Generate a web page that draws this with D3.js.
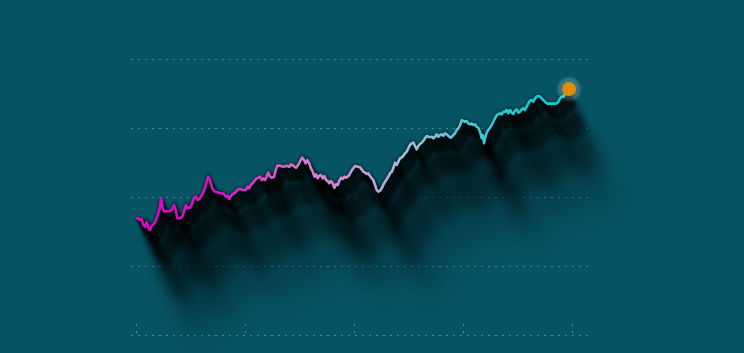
<!DOCTYPE html>
<html>
<head>
<meta charset="utf-8">
<script src="https://cdn.jsdelivr.net/npm/d3@7"></script>
<style>
  html, body { margin: 0; padding: 0; background: #065363; overflow: hidden; }
  svg { display: block; }
</style>
</head>
<body>
<div id="chart"></div>
<script>
var width = 744,
    height = 353;

// day index of each reading (0..240) and its value
var days = [0, 1.1, 2.2, 3.1, 4.0, 5.0, 5.9, 6.8, 7.7, 8.6, 9.5, 10.5, 11.4, 12.3, 13.2, 13.9, 14.7, 15.6, 16.9, 18.3,
    19.7, 20.9, 21.9, 22.7, 24.2, 25.5, 26.4, 27.5, 28.5, 29.7, 30.7, 31.9, 32.9, 34.0, 35.2, 36.7, 38.0, 38.9, 39.8, 40.7,
    41.7, 42.6, 43.5, 45.0, 46.2, 47.5, 48.6, 49.4, 50.5, 51.2, 52.1, 53.0, 54.1, 55.4, 56.3, 57.8, 59.1, 60.4, 61.5, 62.2,
    63.1, 64.2, 65.1, 66.4, 67.3, 68.3, 69.2, 70.1, 71.0, 71.9, 72.8, 73.8, 74.7, 76.0, 76.9, 77.8, 79.3, 81.1, 83.0, 84.4,
    85.3, 86.6, 88.1, 89.3, 90.7, 91.5, 92.5, 93.4, 94.3, 95.4, 96.3, 97.3, 98.2, 99.1, 100.0, 100.9, 101.8, 102.8, 103.7, 104.6,
    105.5, 106.4, 107.3, 108.3, 109.2, 110.1, 111.0, 111.9, 112.9, 113.8, 114.7, 115.6, 116.5, 117.4, 118.4, 119.3, 120.6, 122.0, 123.3, 124.2,
    125.1, 126.1, 127.0, 127.9, 128.8, 129.8, 130.6, 131.6, 132.5, 133.4, 134.3, 135.3, 136.1, 137.1, 138.0, 138.9, 139.8, 140.8, 141.6, 142.6,
    143.5, 144.4, 145.3, 146.3, 147.1, 148.1, 149.0, 149.9, 150.8, 151.8, 152.7, 153.6, 154.5, 155.4, 156.3, 157.3, 158.2, 159.1, 160.0, 160.9,
    161.8, 162.8, 163.7, 164.6, 165.5, 166.4, 167.4, 168.3, 169.2, 170.1, 171.0, 171.9, 173.2, 174.3, 175.6, 176.5, 177.4, 178.4, 179.3, 180.2,
    181.1, 182.0, 182.9, 183.9, 184.8, 185.7, 186.6, 187.5, 188.4, 189.4, 190.3, 190.9, 191.6, 192.1, 193.1, 193.9, 194.9, 195.8, 196.7, 197.6,
    198.6, 199.4, 200.4, 201.3, 202.2, 203.1, 204.1, 204.9, 205.9, 206.8, 207.7, 208.6, 209.6, 210.5, 211.4, 212.3, 213.2, 214.1, 215.1, 216.0,
    216.9, 217.8, 218.7, 219.6, 220.6, 221.5, 222.4, 223.3, 224.2, 225.1, 226.1, 227.0, 227.9, 228.8, 229.7, 230.6, 231.6, 232.5, 233.4, 234.3,
    235.2, 235.8, 237.1, 238.4];

var values = [16.91, 16.96, 16.67, 16.81, 15.94, 15.70, 16.33, 15.55, 15.22, 15.80, 16.04, 16.33, 16.91, 17.64, 18.59, 19.81, 18.36, 17.87, 17.97, 17.97,
    18.12, 18.84, 18.12, 16.91, 16.91, 17.15, 17.87, 18.84, 18.36, 18.45, 18.94, 19.81, 20.04, 19.57, 19.81, 20.54, 21.26, 22.22, 22.94, 22.46,
    21.49, 21.01, 20.77, 20.68, 20.54, 20.54, 20.39, 20.04, 20.19, 19.71, 20.04, 20.39, 20.54, 20.87, 21.16, 21.12, 21.01, 21.01, 21.49, 21.26,
    21.74, 21.99, 22.32, 22.71, 22.80, 22.94, 22.46, 22.71, 22.46, 22.94, 23.58, 22.94, 22.80, 22.94, 23.91, 24.54, 24.54, 24.39, 24.54, 24.39,
    24.74, 24.54, 24.25, 24.64, 25.36, 25.70, 25.36, 24.88, 25.36, 24.88, 24.16, 23.67, 22.94, 23.29, 22.71, 23.09, 23.19, 22.71, 23.04, 22.46,
    22.32, 21.99, 22.32, 21.99, 21.35, 21.84, 21.74, 22.32, 22.80, 22.61, 22.94, 22.80, 22.94, 23.19, 23.67, 24.06, 24.49, 24.39, 24.30, 24.01,
    23.67, 23.52, 23.33, 23.43, 23.04, 22.71, 22.46, 21.74, 21.01, 20.77, 20.91, 21.26, 21.74, 22.22, 22.57, 22.94, 23.43, 23.67, 24.16, 24.97,
    24.64, 25.12, 25.61, 25.75, 25.94, 26.33, 26.57, 27.06, 27.54, 27.78, 27.87, 27.39, 26.91, 27.39, 27.68, 27.87, 28.16, 28.51, 28.84, 28.74,
    28.70, 28.74, 28.51, 28.74, 29.09, 28.74, 28.99, 29.09, 28.88, 29.23, 29.09, 28.88, 28.59, 28.88, 29.23, 29.71, 29.96, 30.43, 31.16, 31.01,
    30.91, 31.01, 30.68, 30.54, 30.68, 30.43, 30.54, 30.19, 30.04, 29.46, 28.51, 28.99, 27.78, 28.51, 29.38, 29.71, 30.04, 30.43, 30.91, 31.41,
    31.88, 31.99, 32.13, 31.99, 32.36, 32.36, 32.61, 32.13, 32.61, 32.22, 32.03, 32.51, 32.71, 32.22, 32.36, 32.71, 32.86, 32.61, 33.09, 33.58,
    33.96, 34.06, 33.81, 34.30, 34.54, 34.64, 34.54, 34.30, 34.06, 33.81, 33.58, 33.48, 33.58, 33.48, 33.58, 33.48, 33.58, 33.81, 34.30, 34.54,
    34.54, 34.78, 35.26, 35.65];

var gridValues = [0, 10, 20, 30, 40];
var tickDays = [0, 60, 120, 180, 240];

// colour of the line from first to last day
var colorStops = [
    {offset: 0.00, color: "#e000c8"},
    {offset: 0.20, color: "#d418c4"},
    {offset: 0.36, color: "#d470cc"},
    {offset: 0.50, color: "#cc98d0"},
    {offset: 0.62, color: "#a8bcd4"},
    {offset: 0.76, color: "#50c6d0"},
    {offset: 0.88, color: "#1ccad2"},
    {offset: 1.00, color: "#10ccd4"}
];

var data = days.map(function(d, i) { return {day: d, value: values[i]}; });

var x = d3.scaleLinear().domain([0, 240]).range([136, 572]);
var y = d3.scaleLinear().domain([0, 40]).range([335, 59]);

var svg = d3.select("#chart").append("svg")
    .attr("width", width)
    .attr("height", height);

svg.append("rect")
    .attr("width", width)
    .attr("height", height)
    .attr("fill", "#065363");

var defs = svg.append("defs");

var last = data[data.length - 1];

defs.append("linearGradient")
    .attr("id", "line-grad")
    .attr("gradientUnits", "userSpaceOnUse")
    .attr("x1", x(data[0].day)).attr("y1", 0)
    .attr("x2", x(last.day)).attr("y2", 0)
    .selectAll("stop")
    .data(colorStops)
    .enter().append("stop")
        .attr("offset", function(d) { return d.offset; })
        .attr("stop-color", function(d) { return d.color; });

// grid
svg.append("g")
    .attr("class", "grid")
    .selectAll("line")
    .data(gridValues)
    .enter().append("line")
        .attr("x1", 131)
        .attr("x2", 590)
        .attr("y1", function(d) { return y(d) + 0.5; })
        .attr("y2", function(d) { return y(d) + 0.5; })
        .attr("stroke", "#3a8b92")
        .attr("stroke-width", 1)
        .attr("stroke-dasharray", "2,5");

// x ticks, no labels
var xAxis = svg.append("g")
    .attr("transform", "translate(0," + y(0) + ")")
    .call(d3.axisBottom(x).tickValues(tickDays).tickSize(-11).tickFormat(""));
xAxis.select(".domain").remove();
xAxis.selectAll(".tick line")
    .attr("stroke", "#4a8f96")
    .attr("stroke-dasharray", "2,5")
    .attr("stroke-dashoffset", 5);

var line = d3.line()
    .x(function(d) { return x(d.day); })
    .y(function(d) { return y(d.value); });

// long shadow: copies of the line pushed down and right, blurred more as they go
var steps = 128;
var shadowLayers = [
    {from: 0, to: 16, blur: 1.5},
    {from: 16, to: 40, blur: 3.5},
    {from: 40, to: 76, blur: 7},
    {from: 76, to: 128, blur: 11}
];
var pathD = line(data);

shadowLayers.forEach(function(l, i) {
    defs.append("filter")
        .attr("id", "blur-" + i)
        .attr("x", "-20%").attr("y", "-30%")
        .attr("width", "140%").attr("height", "180%")
        .append("feGaussianBlur")
            .attr("stdDeviation", l.blur);

    var g = svg.append("g")
        .attr("filter", "url(#blur-" + i + ")");

    g.selectAll("path")
        .data(d3.range(l.from, l.to))
        .enter().append("path")
            .attr("d", pathD)
            .attr("fill", "none")
            .attr("stroke", "#000")
            .attr("stroke-width", 3.5)
            .attr("stroke-opacity", function(k) { return 0.42 * Math.pow(1 - k / steps, 1.7); })
            .attr("transform", function(k) { return "translate(" + (k * 0.47) + "," + k + ")"; });
});

svg.append("path")
    .datum(data)
    .attr("d", line)
    .attr("fill", "none")
    .attr("stroke", "url(#line-grad)")
    .attr("stroke-width", 2.6)
    .attr("stroke-linejoin", "round");

// end marker
defs.append("filter")
    .attr("id", "glow")
    .append("feGaussianBlur")
        .attr("stdDeviation", 1);

svg.append("circle")
    .attr("cx", x(last.day))
    .attr("cy", y(last.value))
    .attr("r", 11.5)
    .attr("fill", "#ffffff")
    .attr("fill-opacity", 0.2)
    .attr("filter", "url(#glow)");

svg.append("circle")
    .attr("cx", x(last.day))
    .attr("cy", y(last.value))
    .attr("r", 7)
    .attr("fill", "#e08c06");
</script>
</body>
</html>
